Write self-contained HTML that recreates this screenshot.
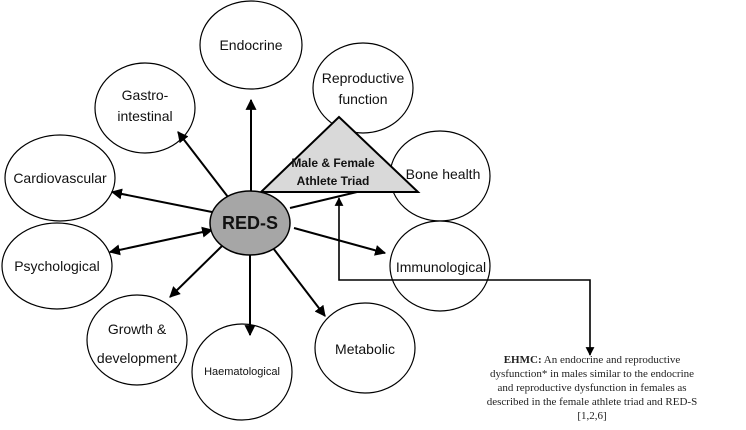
<!DOCTYPE html>
<html><head><style>body{margin:0;background:#fff}svg{display:block}</style></head><body>
<svg width="746" height="430" viewBox="0 0 746 430" xmlns="http://www.w3.org/2000/svg" font-family="Liberation Sans, sans-serif">
<defs><marker id="a" viewBox="0 0 10 10" refX="9" refY="5" markerWidth="5.5" markerHeight="5.5" orient="auto-start-reverse"><path d="M0,0L10,5L0,10z" fill="#000"/></marker></defs>
<g fill="#fff" stroke="#000" stroke-width="1.2">
<ellipse cx="251" cy="45" rx="51" ry="44"/>
<ellipse cx="145" cy="108" rx="50" ry="45"/>
<ellipse cx="363" cy="88" rx="50" ry="45"/>
<ellipse cx="60" cy="178" rx="55" ry="43"/>
<ellipse cx="440" cy="176" rx="50" ry="45"/>
<ellipse cx="57" cy="266" rx="55" ry="43"/>
<ellipse cx="440" cy="266" rx="50" ry="45"/>
<ellipse cx="137" cy="340" rx="50" ry="45"/>
<ellipse cx="242" cy="372" rx="50" ry="48"/>
<ellipse cx="365" cy="348" rx="50" ry="45"/>
</g>
<g stroke="#000" stroke-width="2" fill="none">
<line x1="251" y1="192" x2="251" y2="100" marker-end="url(#a)"/>
<line x1="228" y1="197" x2="178" y2="132" marker-end="url(#a)"/>
<line x1="212" y1="212" x2="112" y2="192" marker-end="url(#a)"/>
<line x1="110" y1="252" x2="212" y2="230" marker-end="url(#a)" marker-start="url(#a)"/>
<line x1="222" y1="246" x2="170" y2="297" marker-end="url(#a)"/>
<line x1="250" y1="255" x2="250" y2="335" marker-end="url(#a)"/>
<line x1="273" y1="248" x2="325" y2="316" marker-end="url(#a)"/>
<line x1="294" y1="228" x2="385" y2="253" marker-end="url(#a)"/>
<line x1="290" y1="208" x2="357" y2="192"/>
<polyline points="590,355 590,280 339,280 339,198" stroke-width="1.6" marker-end="url(#a)" marker-start="url(#a)"/>
</g>
<polygon points="339,117 261,192 418,192" fill="#d9d9d9" stroke="#000" stroke-width="2"/>
<ellipse cx="250" cy="223" rx="40" ry="32" fill="#a6a6a6" stroke="#000" stroke-width="1.5"/>
<g font-size="14" text-anchor="middle" fill="#111">
<text x="251" y="50">Endocrine</text>
<text x="145" y="100">Gastro-</text>
<text x="145" y="121">intestinal</text>
<text x="363" y="83">Reproductive</text>
<text x="363" y="104">function</text>
<text x="60" y="183">Cardiovascular</text>
<text x="443" y="179">Bone health</text>
<text x="57" y="271">Psychological</text>
<text x="441" y="272">Immunological</text>
<text x="137" y="334">Growth &amp;</text>
<text x="137" y="363">development</text>
<text x="242" y="375" font-size="11">Haematological</text>
<text x="365" y="354">Metabolic</text>
<text x="333" y="167" font-size="12" font-weight="bold">Male &amp; Female</text>
<text x="333" y="185" font-size="12" font-weight="bold">Athlete Triad</text>
<text x="250" y="229" font-size="18" font-weight="bold">RED-S</text>
</g>
<g font-family="Liberation Serif, serif" font-size="11" text-anchor="middle" fill="#222">
<text x="592" y="363"><tspan font-weight="bold">EHMC:</tspan> An endocrine and reproductive</text>
<text x="592" y="377">dysfunction* in males similar to the endocrine</text>
<text x="592" y="391">and reproductive dysfunction in females as</text>
<text x="592" y="405">described in the female athlete triad and RED-S</text>
<text x="592" y="419">[1,2,6]</text>
</g>
</svg>
</body></html>
